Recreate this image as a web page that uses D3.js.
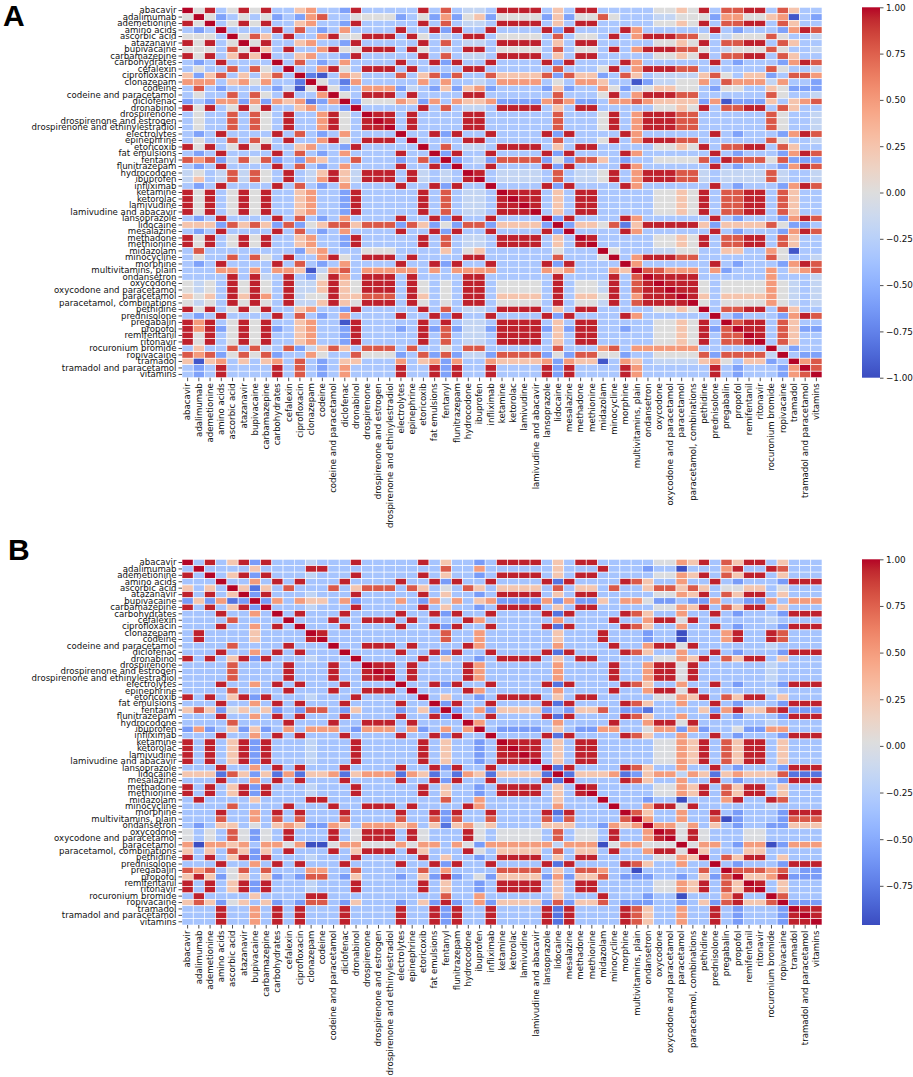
<!DOCTYPE html>
<html><head><meta charset="utf-8">
<script src="https://cdn.jsdelivr.net/npm/d3@7"></script>
<style>body{margin:0;background:#fff}</style>
</head><body>
<svg id="c" width="913" height="1077"></svg>
<script>
const drugs = ["abacavir","adalimumab","ademetionine","amino acids","ascorbic acid","atazanavir","bupivacaine","carbamazepine","carbohydrates","cefalexin","ciprofloxacin","clonazepam","codeine","codeine and paracetamol","diclofenac","dronabinol","drospirenone","drospirenone and estrogen","drospirenone and ethinylestradiol","electrolytes","epinephrine","etoricoxib","fat emulsions","fentanyl","flunitrazepam","hydrocodone","ibuprofen","infliximab","ketamine","ketorolac","lamivudine","lamivudine and abacavir","lansoprazole","lidocaine","mesalazine","methadone","methionine","midazolam","minocycline","morphine","multivitamins, plain","ondansetron","oxycodone","oxycodone and paracetamol","paracetamol","paracetamol, combinations","pethidine","prednisolone","pregabalin","propofol","remifentanil","ritonavir","rocuronium bromide","ropivacaine","tramadol","tramadol and paracetamol","vitamins"];

// correlation level code -> value
const levelValues = {"0":-0.95,"1":-0.78,"2":-0.58,"3":-0.33,"4":-0.18,"5":0.0,"6":0.25,"7":0.5,"8":0.78,"9":0.95};

const rowsA = [
"9593595933 6733293333 3938344399 9936399333 3355659388 9938633",
"5952353523 2783355552 3527256255 5526255853 3344555277 5567032",
"9593595933 6733293333 3938344399 9936399333 3355659388 9938633",
"3239333393 8323733339 3392933933 3392933339 7333333932 3332798",
"5553958639 3379559993 9534399355 5538355393 7999885345 5585334",
"9593595933 6733293333 3938344399 9936399333 3355659388 9938633",
"5553859639 3379559993 9534399355 5538355393 7999885345 5585334",
"9593696933 6733293333 3938344399 9936399333 3355659388 9938633",
"3239333393 8323733339 3392933933 3392933339 7333333932 3332798",
"3533838539 3379539993 9333399333 3338333593 7999883333 3385334",
"6268363683 9103763338 3682833866 6682866238 6344446853 6623887",
"7773675733 1953173333 3737334377 7735377633 0244557387 7747332",
"3832333324 0595237772 4326267233 3326233752 4566553255 3365222",
"3533838539 3379539993 9333399333 3338333593 7999883333 3385334",
"2327727276 7127925557 6273766722 2278722377 8766662702 2263678",
"9593595933 6733293333 3938344399 9936399333 3355659388 9938633",
"3533838539 3379539993 9333399333 3338333593 7999883333 3385334",
"3533838539 3379539993 9333399333 3338333593 7999883333 3385334",
"3533838539 3379539993 9333399333 3338333593 7999883333 3385334",
"3239333393 8323733339 3392933933 3392933339 7333333932 3332798",
"3533838539 3379539993 9333399333 3338333593 7999883333 3385334",
"9593595933 6733293333 3938344399 9936399333 3355659388 9938633",
"3239333393 8323733339 3392933933 3392933339 7333333932 3332798",
"8782485823 2763383332 3829234288 8825288632 3355558298 8858222",
"3239333393 8323733339 3392933933 3392933339 7333333932 3332798",
"4534848539 3469649993 9434399344 4438344593 7999884344 4484334",
"4634848539 3479649993 9434399344 4438344593 7999884344 4484334",
"3239333393 8323733339 3392933933 3392933339 7333333932 3332798",
"9593595933 6733293333 3938344399 9936399333 3355659388 9938633",
"9593595933 6733293333 3938344399 9936399333 3355659388 9938633",
"9593595933 6733293333 3938344399 9936399333 3355659388 9938633",
"9593595933 6733293333 3938344399 9936399333 3355659388 9938633",
"3239333393 8323733339 3392933933 3392933339 7333333932 3332798",
"6662868628 2568868882 8625288266 6629266581 6999996266 6685223",
"3239333393 8323733339 3392933933 3392933339 7333333932 3332798",
"9593595933 6733293333 3938344399 9936399333 3355659388 9938633",
"9593595933 6733293333 3938344399 9936399333 3355659388 9938633",
"3833333333 2673335553 3336356333 3335333953 3344553366 3375033",
"3533838539 3379539993 9333399333 3338333593 7999883333 3385334",
"3239333393 8323733339 3392933933 3392933339 7333333932 3332798",
"3337737377 6047837777 7373777733 3376733376 9887773723 3373678",
"3333939439 3259739993 9333399333 3339333393 8999993333 3373334",
"5453959539 4469659993 9535399355 5539355493 8999995355 5575434",
"5453959539 4469659993 9535399355 5539355493 8999995355 5575434",
"6563969739 4559668883 9635399366 6639366593 7999996366 6675434",
"5453959539 4469659993 9535399355 5539355493 8999995355 5575434",
"9593595933 6733293333 3938344399 9936399333 3355659388 9938633",
"3239333393 8323733339 3392933933 3392933339 7333333932 3332798",
"9793595933 6733093333 3939344399 9936399333 3355659398 9938633",
"9792595923 6733293332 3928244299 9926299332 3355659289 9938622",
"9593595933 6733293333 3938344399 9936399333 3355659388 9938633",
"9593595933 6733293333 3938344399 9936399333 3355659388 9938633",
"3633838438 2468638883 8335388333 3338333783 7777773333 3394233",
"8782585823 3753385552 3828244288 8825288552 3355558288 8849322",
"6067363673 8323663337 3672733766 6672766037 6344446753 6623978",
"3239333393 8323733339 3392933933 3392933339 7333333932 3332798",
"3239333393 8323733339 3392933933 3392933339 7333333932 3332789"
];

const rowsB = [
"9393692933 3433393333 3936332399 9936399333 3355769386 9936333",
"3933336333 3993333333 3338337333 3336333933 3233033379 3398333",
"9393692933 3433393333 3936332399 9936399333 3355769386 9936333",
"3339337393 9333933339 3392933933 3391933339 8633733932 3332999",
"6363961638 3338368883 8635386366 6638366383 3688686355 6635333",
"9393692933 3433393333 3936332399 9936399333 3355769386 9936333",
"2627129273 7663723337 3274736722 2272722637 7522322733 2273777",
"9393692933 3433393333 3936332399 9936399333 3355769386 9936333",
"3339337393 9333933339 3392933933 3391933339 8633733932 3332999",
"3333833339 3339339993 9333397333 3337333393 3799593333 3343333",
"3339337393 9333933339 3392933933 3391933339 8633733932 3332999",
"3933336333 3993333333 3338337333 3336333933 3233033379 3398333",
"3933336333 3993333333 3338337333 3336333933 3233033379 3398333",
"3333833339 3339339993 9333397333 3337333393 3799593333 3343333",
"3339337393 9333933339 3392933933 3391933339 8633733932 3332999",
"9393692933 3433393333 3936332399 9936399333 3355769386 9936333",
"3333833339 3339339993 9333397333 3337333393 3799593333 3343333",
"3333833339 3339339993 9333397333 3337333393 3799593333 3343333",
"3333833339 3339339993 9333397333 3337333393 3799593333 3343333",
"3339337393 9333933339 3392933933 3391933339 8633733932 3332999",
"3333833339 3339339993 9333397333 3337333393 3799593333 3343333",
"9393692933 3433393333 3936332399 9936399333 3355769386 9936333",
"3339337393 9333933339 3392933933 3391933339 8633733932 3332999",
"6862564623 2883263332 3629237266 6623266832 2133336279 6689222",
"3339337393 9333933339 3392933933 3391933339 8633733932 3332999",
"3333833339 3339339993 9333397333 3337333393 3799593333 3343333",
"2723626237 3777327773 7237379322 2236322773 3577272335 2277333",
"3339337393 9333933339 3392933933 3391933339 8633733932 3332999",
"9393692933 3433393333 3936332399 9936399333 3355769386 9936333",
"9393692933 3433393333 3936332399 9936399333 3355769386 9936333",
"9393692933 3433393333 3936332399 9936399333 3355769386 9936333",
"9393692933 3433393333 3936332399 9936399333 3355769386 9936333",
"3339337393 9333933339 3392933933 3391933339 8633733932 3332999",
"6661862617 1667167771 7613176166 6619166671 2677476167 6668111",
"3339337393 9333933339 3392933933 3391933339 8633733932 3332999",
"9393692933 3433393333 3936332399 9936399333 3355769386 9936333",
"9393692933 3433393333 3936332399 9936399333 3355769386 9936333",
"3933336333 3993333333 3338337333 3336333933 3233033379 3398333",
"3333833339 3339339993 9333397333 3337333393 3799593333 3343333",
"3339337393 9333933339 3392933933 3391933339 8633733932 3332999",
"3338337383 8333833338 3382833833 3382833338 9733733802 3332888",
"3236635367 6227637776 7361675633 3366633276 7977573632 3322666",
"5353852539 3339359993 9533395355 5538355393 3799595333 5533333",
"5353852539 3339359993 9533395355 5538355393 3799595333 5533333",
"7077673775 7005775557 5773752777 7774777057 7555957732 7702777",
"6363862639 3339369993 9633395366 6638366393 3799596333 6633333",
"9393692933 3433393333 3936332399 9936399333 3355769386 9936333",
"3339337393 9333933339 3392933933 3391933339 8633733932 3332999",
"8783583833 3773383333 3837333388 8836388733 0333338398 8878322",
"6962563623 2883263332 3629235266 6627266832 2233236289 6679222",
"9393692933 3433393333 3936332399 9936399333 3355769386 9936333",
"9393692933 3433393333 3936332399 9936399333 3355769386 9936333",
"3933336333 3993333333 3338337333 3336333933 3233033379 3398333",
"6862563623 2883263332 3629237266 6628266832 2233236289 6689222",
"3339337393 9333933339 3392933933 3391933339 8633733932 3332999",
"3339337393 9333933339 3392933933 3391933339 8633733932 3332999",
"3339337393 9333933339 3392933933 3391933339 8633733932 3332999"
];

const ticksA = [1.0, 0.75, 0.5, 0.25, 0.0, -0.25, -0.5, -0.75, -1.0];
const ticksB = [1.0, 0.75, 0.5, 0.25, 0.0, -0.25, -0.5, -0.75];
const rangeA = [-1.0, 1.0];
const rangeB = [-0.96, 1.0];

// matplotlib "coolwarm" colormap (Moreland) control colours
const coolwarmStops = ["#3b4cc0","#445acc","#4d68d7","#5775e1","#6282ea","#6c8ef1","#779af7","#82a5fb","#8db0fe","#98b9ff","#a3c2ff","#aec9fd","#b8d0f9","#c2d5f4","#ccd9ee","#d5dbe6","#dddddd","#e5d8d1","#ecd3c5","#f1ccb9","#f5c4ad","#f7bba0","#f7b194","#f7a687","#f49a7b","#f18d6f","#ec7f63","#e57058","#de604d","#d55042","#cb3e38","#c0282f","#b40426"];
const coolwarm = d3.scaleLinear()
  .domain(coolwarmStops.map((c, k) => k / (coolwarmStops.length - 1)))
  .range(coolwarmStops).interpolate(d3.interpolateRgb).clamp(true);

const svg = d3.select("#c");
const defs = svg.append("defs");
const FONT = "DejaVu Sans, sans-serif";

function parseRows(rows) {
  return rows.map((s, i) => {
    const chars = s.replace(/ /g, "").split("");
    return drugs.map((_, j) => i === j ? 1.0 : levelValues[chars[j] || "3"]);
  });
}

function panel(rows, top, bottom, range, ticks, letter, letterX, letterY) {
  const n = drugs.length;
  const M = parseRows(rows);
  const [vmin, vmax] = range;
  const x = d3.scaleBand().domain(d3.range(n)).range([182, 822]);
  const y = d3.scaleBand().domain(d3.range(n)).range([top, bottom]);
  const color = v => coolwarm((v - vmin) / (vmax - vmin));
  const cells = [];
  M.forEach((row, i) => row.forEach((v, j) => cells.push({i, j, v})));
  const g = svg.append("g");
  g.selectAll("rect").data(cells).join("rect")
    .attr("x", d => x(d.j)).attr("y", d => y(d.i))
    .attr("width", x.bandwidth()).attr("height", y.bandwidth())
    .attr("fill", d => color(d.v))
    .attr("stroke", "#ffffff").attr("stroke-width", 0.6);

  const ya = svg.append("g").attr("transform", "translate(182,0)")
    .call(d3.axisLeft(y).tickFormat(i => drugs[i]).tickSize(3.5).tickPadding(2));
  ya.select(".domain").remove();
  ya.attr("font-family", FONT).attr("font-size", 8.6);
  ya.selectAll("text").attr("fill", "#111");
  ya.selectAll("line").attr("stroke", "#222").attr("stroke-width", 0.8);

  const xa = svg.append("g").attr("transform", `translate(0,${bottom})`)
    .call(d3.axisBottom(x).tickFormat(i => drugs[i]).tickSize(3.5));
  xa.select(".domain").remove();
  xa.attr("font-family", FONT).attr("font-size", 8.6);
  xa.selectAll("text").attr("fill", "#111")
    .attr("transform", "rotate(-90)").attr("text-anchor", "end")
    .attr("x", -5.5).attr("y", 0).attr("dy", "0.33em");
  xa.selectAll("line").attr("stroke", "#222").attr("stroke-width", 0.8);

  // colour bar
  const gid = "grad" + letter;
  const lg = defs.append("linearGradient").attr("id", gid)
    .attr("x1", 0).attr("y1", 1).attr("x2", 0).attr("y2", 0);
  coolwarmStops.forEach((c, k) => lg.append("stop")
    .attr("offset", k / (coolwarmStops.length - 1)).attr("stop-color", c));
  svg.append("rect").attr("x", 862).attr("y", top).attr("width", 18)
    .attr("height", bottom - top).attr("fill", `url(#${gid})`);
  const cs = d3.scaleLinear().domain([vmin, vmax]).range([bottom, top]);
  const ca = svg.append("g").attr("transform", "translate(880,0)")
    .call(d3.axisRight(cs).tickValues(ticks).tickFormat(d3.format(".2f")).tickSize(3.5).tickPadding(2.5));
  ca.select(".domain").remove();
  ca.attr("font-family", FONT).attr("font-size", 8.8);
  ca.selectAll("text").attr("fill", "#111");
  ca.selectAll("line").attr("stroke", "#222").attr("stroke-width", 0.8);

  svg.append("text").attr("x", letterX).attr("y", letterY)
    .attr("font-family", "Liberation Sans, Arial, sans-serif")
    .attr("font-weight", "bold").attr("font-size", 30).attr("fill", "#000")
    .text(letter);
}

panel(rowsA, 7.3, 377.7, rangeA, ticksA, "A", 3, 26);
panel(rowsB, 559.3, 925, rangeB, ticksB, "B", 8, 560);
</script>
</body></html>
